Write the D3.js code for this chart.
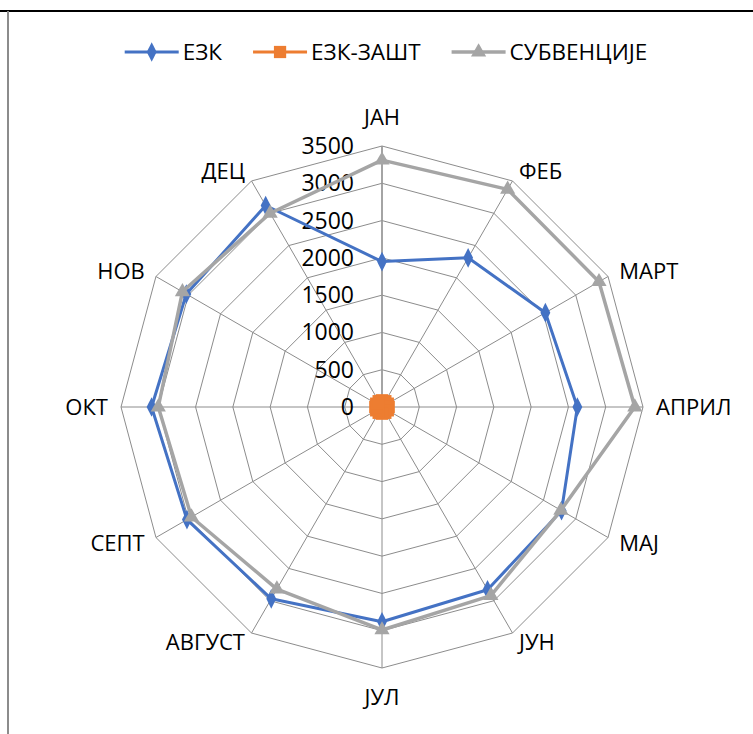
<html>
<script src="https://d3js.org/d3.v7.min.js"></script>
<style>
  body { margin: 0; background: #fff; }
  text { font-family: "Open Sans", "Liberation Sans", sans-serif; fill: #000; }
</style>
<body>
<svg width="753" height="734"></svg>
<script>
// Chart data
var months = ["ЈАН", "ФЕБ", "МАРТ", "АПРИЛ", "МАЈ", "ЈУН", "ЈУЛ", "АВГУСТ", "СЕПТ", "ОКТ", "НОВ", "ДЕЦ"];
var seriesNames = ["ЕЗК", "ЕЗК-ЗАШТ", "СУБВЕНЦИЈЕ"];
var ezk = [1950, 2310, 2530, 2620, 2780, 2830, 2880, 2970, 3020, 3090, 3030, 3120];
var ezkZasht = [90, 90, 90, 90, 90, 90, 90, 90, 90, 90, 90, 90];
var subvencije = [3310, 3370, 3360, 3390, 2770, 2920, 2990, 2820, 2950, 3000, 3090, 3000];
var tickValues = [0, 500, 1000, 1500, 2000, 2500, 3000, 3500];

var svg = d3.select("svg");
var cx = 382, cy = 407, R = 261;

// frame lines
svg.append("line").attr("x1", 0).attr("x2", 753).attr("y1", 11).attr("y2", 11)
  .attr("stroke", "#000").attr("stroke-width", 2);
svg.append("line").attr("x1", 8).attr("x2", 8).attr("y1", 11).attr("y2", 734)
  .attr("stroke", "#8c8c8c").attr("stroke-width", 2);

var r = d3.scaleLinear().domain([0, 3500]).range([0, R]);
var angle = d3.scaleLinear().domain([0, months.length]).range([0, 2 * Math.PI]);

var g = svg.append("g").attr("transform", "translate(" + cx + "," + cy + ")");

// rings
var ring = d3.lineRadial().angle(function(d, i) { return angle(i); }).curve(d3.curveLinearClosed);
g.selectAll(".ring").data(tickValues.slice(1)).enter().append("path")
  .attr("d", function(v) { return ring.radius(r(v))(months); })
  .attr("fill", "none").attr("stroke", "#8c8c8c").attr("stroke-width", 1);

// spokes
g.selectAll(".spoke").data(months).enter().append("line")
  .attr("x1", 0).attr("y1", 0)
  .attr("x2", function(d, i) { return r(3500) * Math.sin(angle(i)); })
  .attr("y2", function(d, i) { return -r(3500) * Math.cos(angle(i)); })
  .attr("stroke", "#8c8c8c").attr("stroke-width", 1);
// value axis
g.append("line").attr("x1", 0).attr("y1", 0).attr("x2", 0).attr("y2", -r(3500))
  .attr("stroke", "#999").attr("stroke-width", 1.5);

// tick labels
g.selectAll(".tick").data(tickValues).enter().append("text")
  .attr("x", -28).attr("y", function(v) { return -r(v); }).attr("dy", "0.35em")
  .attr("text-anchor", "end").attr("font-size", 23)
  .text(function(v) { return v; });

// category labels
g.selectAll(".cat").data(months).enter().append("text")
  .attr("font-size", 22)
  .attr("x", function(d, i) {
    var s = Math.sin(angle(i));
    return (r(3500) + 13) * s;
  })
  .attr("y", function(d, i) {
    var s = Math.sin(angle(i)), c = Math.cos(angle(i));
    var y = -r(3500) * c - 11 * c;
    if (Math.abs(s) < 0.01) y -= c * 18;
    return y;
  })
  .attr("dy", "0.35em")
  .attr("text-anchor", function(d, i) {
    var s = Math.sin(angle(i));
    return s > 0.01 ? "start" : (s < -0.01 ? "end" : "middle");
  })
  .text(function(d) { return d; });

var colors = ["#4472C4", "#ED7D31", "#A5A5A5"];
var widths = [3, 3, 3.5];
var shapes = [d3.symbolDiamond, d3.symbolSquare, d3.symbolTriangle];
var shapeSizes = [85, 150, 100];
var allSeries = [ezk, ezkZasht, subvencije];

var line = d3.lineRadial()
  .angle(function(d, i) { return angle(i); })
  .radius(function(d) { return r(d); })
  .curve(d3.curveLinearClosed);

allSeries.forEach(function(vals, k) {
  g.append("path").attr("d", line(vals))
    .attr("fill", "none").attr("stroke", colors[k]).attr("stroke-width", widths[k])
    .attr("stroke-linejoin", "round");
  g.selectAll(".m" + k).data(vals).enter().append("path")
    .attr("d", d3.symbol().type(shapes[k]).size(shapeSizes[k]))
    .attr("transform", function(d, i) {
      var x = r(d) * Math.sin(angle(i)), y = -r(d) * Math.cos(angle(i));
      return "translate(" + x + "," + y + ")" + (k == 0 ? " scale(1,1.15)" : "");
    })
    .attr("fill", colors[k]);
});

// legend
var leg = svg.append("g");
var xpos = 0;
seriesNames.forEach(function(name, k) {
  var item = leg.append("g").attr("transform", "translate(" + xpos + ",0)");
  item.append("line").attr("x1", 0).attr("x2", 54).attr("y1", 0).attr("y2", 0)
    .attr("stroke", colors[k]).attr("stroke-width", widths[k]);
  item.append("path").attr("d", d3.symbol().type(shapes[k]).size(shapeSizes[k])())
    .attr("transform", "translate(27,0)" + (k == 0 ? " scale(1,1.15)" : ""))
    .attr("fill", colors[k]);
  var t = item.append("text").attr("x", 58).attr("dy", "0.35em")
    .attr("font-size", 22.5).text(name);
  xpos += 58 + t.node().getComputedTextLength() + 31;
});
var legW = xpos - 31;
leg.attr("transform", "translate(" + (386 - legW / 2) + ",52)");
</script>
</body>
</html>
